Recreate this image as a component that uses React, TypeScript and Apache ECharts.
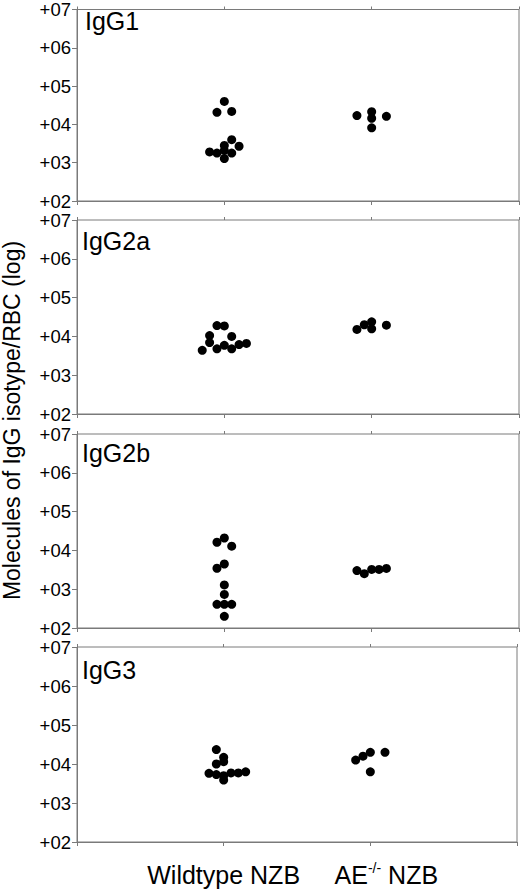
import React, { useEffect, useRef } from 'react';
import * as echarts from 'echarts';

const categories = ['Wildtype NZB', 'AE-/- NZB'];
const panelNames = ['IgG1', 'IgG2a', 'IgG2b', 'IgG3'];
const yTickExponents = [2, 3, 4, 5, 6, 7];
const yAxisTitle = 'Molecules of IgG isotype/RBC (log)';

// values are log10(molecules per RBC); jitter = horizontal offset in category units
const igg1Wildtype = [4.60, 4.315, 4.34, 3.60, 3.45, 3.43, 3.28, 3.25, 3.32, 3.25, 3.11];
const igg1WildtypeJitter = [0, -0.05, 0.05, 0.05, 0, 0.1, -0.1, -0.05, 0, 0.05, 0];
const igg1Knockout = [4.23, 4.33, 4.16, 3.91, 4.21];
const igg1KnockoutJitter = [-0.1, 0, 0, 0, 0.1];

const igg2aWildtype = [4.28, 4.27, 4.02, 3.84, 4.0, 3.64, 3.68, 3.77, 3.68, 3.79, 3.82];
const igg2aWildtypeJitter = [-0.05, 0, -0.1, -0.1, 0.05, -0.15, -0.05, 0, 0.05, 0.1, 0.15];
const igg2aKnockout = [4.18, 4.30, 4.375, 4.195, 4.29];
const igg2aKnockoutJitter = [-0.1, -0.05, 0, 0, 0.1];

const igg2bWildtype = [4.21, 4.32, 4.11, 3.54, 3.65, 3.11, 2.865, 2.61, 2.61, 2.61, 2.30];
const igg2bWildtypeJitter = [-0.05, 0, 0.05, -0.05, 0, 0, 0, -0.05, 0, 0.05, 0];
const igg2bKnockout = [3.48, 3.40, 3.51, 3.51, 3.535];
const igg2bKnockoutJitter = [-0.1, -0.05, 0, 0.05, 0.1];

const igg3Wildtype = [4.37, 4.17, 4.06, 4.0, 3.76, 3.73, 3.70, 3.59, 3.77, 3.77, 3.80];
const igg3WildtypeJitter = [-0.05, 0, 0, -0.05, -0.1, -0.05, 0, 0, 0.05, 0.1, 0.15];
const igg3Knockout = [4.10, 4.20, 4.30, 3.80, 4.30];
const igg3KnockoutJitter = [-0.1, -0.05, 0, 0, 0.1];

const panelData = [
  [[igg1Wildtype, igg1WildtypeJitter], [igg1Knockout, igg1KnockoutJitter]],
  [[igg2aWildtype, igg2aWildtypeJitter], [igg2aKnockout, igg2aKnockoutJitter]],
  [[igg2bWildtype, igg2bWildtypeJitter], [igg2bKnockout, igg2bKnockoutJitter]],
  [[igg3Wildtype, igg3WildtypeJitter], [igg3Knockout, igg3KnockoutJitter]],
];

const FONT = "'Liberation Sans', Arial, sans-serif";
const GRID_TOPS = [5, 220, 434, 647];
const GRID_HEIGHTS = [196, 194, 194, 195];
const TITLE_POS = [[85, 21], [82, 240.5], [82, 453], [82, 670]];
const LINE = '#7a7a7a';

export default function App() {
  const ref = useRef<HTMLDivElement>(null);
  useEffect(() => {
    if (!ref.current) return;
    const chart = echarts.init(ref.current, null, { renderer: 'svg' });
    const grids: any[] = [];
    const xAxes: any[] = [];
    const yAxes: any[] = [];
    const series: any[] = [];
    panelNames.forEach((name, i) => {
      const last = i === panelNames.length - 1;
      grids.push({
        left: 77, right: 1, top: GRID_TOPS[i], height: GRID_HEIGHTS[i],
        show: true, borderColor: LINE, borderWidth: 1, backgroundColor: 'transparent',
      });
      xAxes.push({
        type: 'value', gridIndex: i, min: 0, max: categories.length + 1, interval: 1,
        position: 'bottom',
        splitLine: { show: false },
        axisLine: { show: true, lineStyle: { color: LINE } },
        axisTick: { show: true, length: 4, lineStyle: { color: LINE } },
        axisLabel: last
          ? {
              show: true, margin: 19, color: '#000', fontFamily: FONT, fontSize: 25,
              formatter: (v: number) => {
                if (v === 1) return '{n|' + categories[0] + '}';
                if (v === 2) {
                  const parts = categories[1].split(' ');
                  const base = parts[0].replace('-/-', '');
                  return '{sp|}{n|' + base + '}{sup|-/-}{n| ' + parts.slice(1).join(' ') + '}';
                }
                return '';
              },
              rich: {
                n: { fontSize: 25, fontFamily: FONT, color: '#000', lineHeight: 28 },
                sup: { fontSize: 14, fontFamily: FONT, color: '#000', verticalAlign: 'top', lineHeight: 14 },
                sp: { width: 32 },
              },
            }
          : { show: false },
      });
      xAxes.push({
        type: 'value', gridIndex: i, min: 0, max: categories.length + 1, interval: 1,
        position: 'top',
        splitLine: { show: false },
        axisLine: { show: false },
        axisTick: { show: true, length: 3, lineStyle: { color: LINE } },
        axisLabel: { show: false },
      });
      yAxes.push({
        type: 'value', gridIndex: i, min: yTickExponents[0], max: yTickExponents[yTickExponents.length - 1], interval: 1,
        splitLine: { show: false },
        axisLine: { show: true, lineStyle: { color: LINE } },
        axisTick: { show: true, length: 5, lineStyle: { color: LINE } },
        axisLabel: {
          margin: 6, color: '#000', fontFamily: FONT, fontSize: 18.5, lineHeight: 18.5,
          formatter: (v: number) => '+0' + v,
        },
      });
      panelData[i].forEach(([vals, jit], g) => {
        series.push({
          type: 'scatter', xAxisIndex: i * 2, yAxisIndex: i,
          symbol: 'circle', symbolSize: 9,
          itemStyle: { color: '#000', opacity: 1 },
          data: (vals as number[]).map((v, k) => [g + 1 + (jit as number[])[k], v]),
          name: categories[g],
        });
      });
    });
    const graphic: any[] = panelNames.map((name, i) => ({
      type: 'text', x: TITLE_POS[i][0], y: TITLE_POS[i][1],
      style: { text: name, font: '25px ' + FONT, fill: '#000', textAlign: 'left', textVerticalAlign: 'middle' },
    }));
    graphic.push({
      type: 'text', x: 12, y: 420.5, rotation: Math.PI / 2,
      style: { text: yAxisTitle, font: '23px ' + FONT, fill: '#000', textAlign: 'center', textVerticalAlign: 'middle' },
    });
    chart.setOption({
      animation: false,
      backgroundColor: '#fff',
      grid: grids,
      xAxis: xAxes,
      yAxis: yAxes,
      series,
      graphic,
    });
    return () => chart.dispose();
  }, []);
  return <div ref={ref} style={{ position: 'absolute', left: 0, top: 0, width: 520, height: 889 }} />;
}
